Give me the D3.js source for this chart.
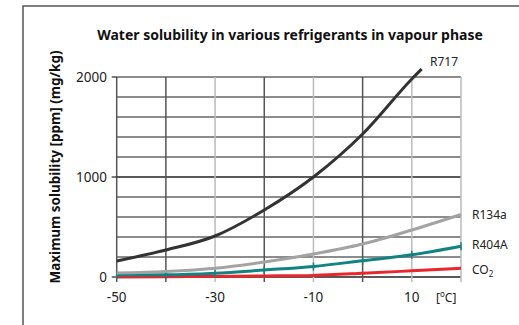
<!DOCTYPE html>
<html>
<head>
<meta charset="utf-8">
<script src="https://cdn.jsdelivr.net/npm/d3@7"></script>
<style>
  body { margin: 0; background: #fff; }
  svg { display: block; font-family: "Noto Sans", "Open Sans", sans-serif; }
</style>
</head>
<body>
<div id="chart"></div>
<script>
// ── data ──
const temps = [-50, -40, -30, -20, -10, 0, 10, 20];
const r717Temps = [-50, -40, -30, -20, -10, 0, 10, 12];
const r717 = [160, 270, 410, 670, 1000, 1430, 1980, 2080];
const r134a = [40, 55, 87, 150, 230, 330, 470, 625];
const r404a = [20, 22, 38, 70, 105, 163, 222, 308];
const co2 = [0, 3, 5, 10, 16, 37, 62, 88];
const xTicks = [-50, -30, -10, 10];
const yTicks = [0, 1000, 2000];
const yGrid = [0, 200, 400, 600, 800, 1000, 1200, 1400, 1600, 1800, 2000];
const xGrid = [-50, -40, -30, -20, -10, 0, 10, 20];
const darkX = [-50, -40, -20, 0];

const W = 519, H = 325;
const svg = d3.select("#chart").append("svg")
  .attr("width", W).attr("height", H);

// outer frame (open towards right/bottom, cropped)
svg.append("path")
  .attr("d", `M23,${H + 2} V6 H${W + 2}`)
  .attr("fill", "none").attr("stroke", "#555").attr("stroke-width", 1.5);

const x = d3.scaleLinear().domain([-50, 20]).range([116.7, 461]);
const y = d3.scaleLinear().domain([0, 2000]).range([277, 77]);

// grid
svg.append("g").selectAll("line").data(yGrid).join("line")
  .attr("x1", x(-50)).attr("x2", x(20))
  .attr("y1", d => y(d)).attr("y2", d => y(d))
  .attr("stroke", d => (d === 1000 || d === 0) ? "#222" : "#666")
  .attr("stroke-width", 1.3);

svg.append("g").selectAll("line").data(xGrid).join("line")
  .attr("x1", d => x(d)).attr("x2", d => x(d))
  .attr("y1", y(2000)).attr("y2", y(0) + 5)
  .attr("stroke", d => darkX.includes(d) ? "#555" : "#bbb")
  .attr("stroke-width", 1.5);

// y axis ticks + labels
const yAxis = svg.append("g");
yAxis.selectAll("line").data(yTicks).join("line")
  .attr("x1", x(-50) - 5).attr("x2", x(-50))
  .attr("y1", d => y(d)).attr("y2", d => y(d))
  .attr("stroke", "#333").attr("stroke-width", 1.3);
yAxis.selectAll("text").data(yTicks).join("text")
  .attr("x", 107).attr("y", d => y(d)).attr("dy", "0.36em")
  .attr("text-anchor", "end").attr("font-size", 13.5).attr("fill", "#222")
  .text(d => d);

// x axis labels
svg.append("g").selectAll("text").data(xTicks).join("text")
  .attr("x", d => x(d)).attr("y", 302)
  .attr("text-anchor", "middle").attr("font-size", 13.5).attr("fill", "#222")
  .text(d => d);

const unit = svg.append("text").attr("x", 436).attr("y", 302)
  .attr("font-size", 12).attr("fill", "#222");
unit.append("tspan").text("[");
unit.append("tspan").attr("dy", -5).attr("font-size", 8).text("o");
unit.append("tspan").attr("dy", 5).text("C]");

// title
svg.append("text")
  .attr("x", 290).attr("y", 40)
  .attr("text-anchor", "middle").attr("font-size", 14).attr("font-weight", "bold")
  .attr("fill", "#111")
  .text("Water solubility in various refrigerants in vapour phase");

// y label
svg.append("text")
  .attr("transform", `translate(60,167) rotate(-90)`)
  .attr("text-anchor", "middle").attr("font-size", 13.5).attr("font-weight", "bold")
  .attr("fill", "#111")
  .text("Maximum solubility [ppm]  (mg/kg)");

// series
const series = [
  { name: "CO2", t: temps, v: co2, color: "#e8262b", ticks: false },
  { name: "R404A", t: temps, v: r404a, color: "#138282", ticks: true },
  { name: "R134a", t: temps, v: r134a, color: "#a3a3a3", ticks: false },
  { name: "R717", t: r717Temps, v: r717, color: "#333", ticks: false }
];

const line = d3.line()
  .x(d => x(d[0])).y(d => y(d[1]))
  .curve(d3.curveMonotoneX);

series.forEach(s => {
  const pts = s.t.map((t, i) => [t, s.v[i]]);
  svg.append("path")
    .datum(pts)
    .attr("d", line)
    .attr("fill", "none")
    .attr("stroke", s.color)
    .attr("stroke-width", 3)
    .attr("stroke-linecap", "butt");
  if (s.ticks) {
    svg.append("g").selectAll("line").data(pts).join("line")
      .attr("x1", d => x(d[0])).attr("x2", d => x(d[0]))
      .attr("y1", d => y(d[1]) - 4).attr("y2", d => y(d[1]) + 4)
      .attr("stroke", s.color).attr("stroke-width", 1.5);
  }
});

// series labels
const lab = svg.append("g").attr("font-size", 12).attr("fill", "#222");
lab.append("text").attr("x", 430).attr("y", 62).attr("dy", "0.35em").text("R717");
lab.append("text").attr("x", 472).attr("y", y(625)).attr("dy", "0.35em").text("R134a");
lab.append("text").attr("x", 472).attr("y", 245).attr("dy", "0.35em").text("R404A");
const co2Lab = lab.append("text").attr("x", 472).attr("y", 270).attr("dy", "0.35em");
co2Lab.append("tspan").text("CO");
co2Lab.append("tspan").attr("dy", 3).attr("font-size", 8).text("2");
</script>
</body>
</html>
